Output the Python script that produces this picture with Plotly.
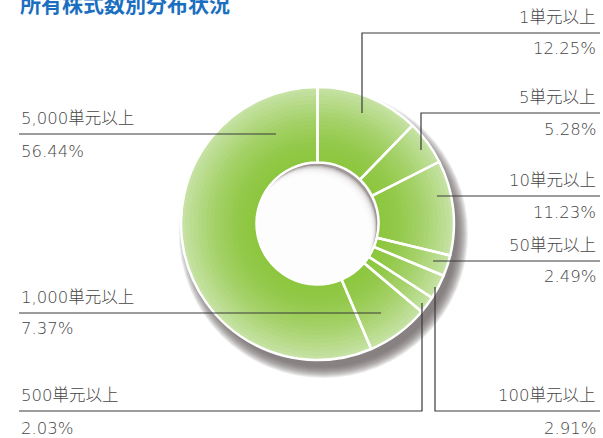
import plotly.graph_objects as go

# ---------------- data ----------------
categories = ["1単元以上", "5単元以上", "10単元以上", "50単元以上",
              "100単元以上", "500単元以上", "1,000単元以上", "5,000単元以上"]
shares = [12.25, 5.28, 11.23, 2.49, 2.91, 2.03, 7.37, 56.44]
pct_labels = ["12.25%", "5.28%", "11.23%", "2.49%", "2.91%", "2.03%", "7.37%", "56.44%"]
title_text = "所有株式数別分布状況"

# ---------------- layout constants (pixels) ----------------
W, H = 603, 438
CX, CY = 317.5, 223.5      # donut centre
R_OUT, R_IN = 136.5, 61.0  # outer / hole radius


def X(px):
    return px / W


def Y(py):
    return 1 - py / H


def domain(r, cx=CX, cy=CY):
    return dict(x=[X(cx - r), X(cx + r)], y=[Y(cy + r), Y(cy - r)])


def mix(c1, c2, t):
    return "rgb(%d,%d,%d)" % tuple(round(a + (b - a) * t) for a, b in zip(c1, c2))


INNER = (141, 198, 63)
OUTER = (200, 227, 168)

fig = go.Figure()

# radial-gradient rings (outer first, each a full annulus down to the hole)
N = 18
for k in range(N, 0, -1):
    r = R_IN + (R_OUT - R_IN) * k / N
    t = ((k - 0.5) / N) ** 1.6
    col = mix(INNER, OUTER, t)
    fig.add_trace(go.Pie(
        values=shares, labels=categories, sort=False, direction="clockwise",
        rotation=0, hole=R_IN / r, domain=domain(r),
        marker=dict(colors=[col] * len(shares), line=dict(width=0)),
        textinfo="none", hoverinfo="skip", showlegend=False))

# white separators / outlines
fig.add_trace(go.Pie(
    values=shares, labels=categories, sort=False, direction="clockwise",
    rotation=0, hole=R_IN / R_OUT, domain=domain(R_OUT),
    marker=dict(colors=["rgba(0,0,0,0)"] * len(shares),
                line=dict(color="white", width=2.5)),
    textinfo="none", hoverinfo="skip", showlegend=False))

shapes = []

# drop shadow (layered soft disk, offset down-right)
SX, SY = CX + 6, CY + 10
for i in range(12):
    r = R_OUT + 8 - i
    shapes.append(dict(type="circle", xref="paper", yref="paper", layer="below",
                       x0=X(SX - r), x1=X(SX + r), y0=Y(SY + r), y1=Y(SY - r),
                       fillcolor="rgba(110,95,95,0.12)", line=dict(width=0)))

# hole: grey base + white soft disk shifted to bottom-left (inner shadow)
shapes.append(dict(type="circle", xref="paper", yref="paper", layer="below",
                   x0=X(CX - R_IN), x1=X(CX + R_IN), y0=Y(CY + R_IN), y1=Y(CY - R_IN),
                   fillcolor="#a19898", line=dict(width=0)))
for i in range(9):
    s = 4 + i * 1.4
    hx, hy = CX - 0.55 * s, CY + 0.83 * s
    r = R_IN
    shapes.append(dict(type="circle", xref="paper", yref="paper", layer="below",
                       x0=X(hx - r), x1=X(hx + r), y0=Y(hy + r), y1=Y(hy - r),
                       fillcolor="rgba(255,255,255,0.38)", line=dict(width=0)))

# leader lines (pixel polylines)
leaders = [
    [(600, 33), (362, 33), (362, 113)],
    [(600, 113), (421, 113), (421, 150)],
    [(600, 196), (437, 196)],
    [(600, 261), (433, 261)],
    [(600, 411), (435, 411), (435, 287)],
    [(19, 411), (422, 411), (422, 303)],
    [(19, 313), (381, 313)],
    [(19, 134), (276, 134)],
]
for pts in leaders:
    path = "M " + " L ".join("%f,%f" % (X(x), Y(y)) for x, y in pts)
    shapes.append(dict(type="path", xref="paper", yref="paper", layer="above",
                       path=path, line=dict(color="#3a3a3a", width=1.2)))

# label positions: (x, anchor, y_name, y_pct)
label_pos = [
    (598, "right", 18, 48),
    (598, "right", 98, 129),
    (598, "right", 181, 212),
    (598, "right", 245, 276),
    (598, "right", 395, 428),
    (19, "left", 395, 428),
    (19, "left", 297, 328),
    (19, "left", 118, 151),
]
FONT = dict(family="DejaVu Sans, Noto Sans CJK JP, sans-serif", size=16.5,
            color="#454545", weight=300)
annotations = []
for name, pct, (x, anc, yn, yp) in zip(categories, pct_labels, label_pos):
    for txt, yy in ((name, yn), (pct, yp)):
        annotations.append(dict(text=txt, x=X(x), y=Y(yy), xref="paper", yref="paper",
                                xanchor=anc, yanchor="middle", showarrow=False,
                                font=FONT))

annotations.append(dict(text="<b>%s</b>" % title_text, x=X(18), y=Y(3),
                        xref="paper", yref="paper", xanchor="left", yanchor="middle",
                        showarrow=False,
                        font=dict(family="Noto Sans CJK JP, sans-serif", size=21,
                                  color="#1b6fc0")))

fig.update_layout(width=W, height=H, margin=dict(l=0, r=0, t=0, b=0),
                  paper_bgcolor="white", plot_bgcolor="white",
                  shapes=shapes, annotations=annotations, showlegend=False)

fig.write_html("out.html")
